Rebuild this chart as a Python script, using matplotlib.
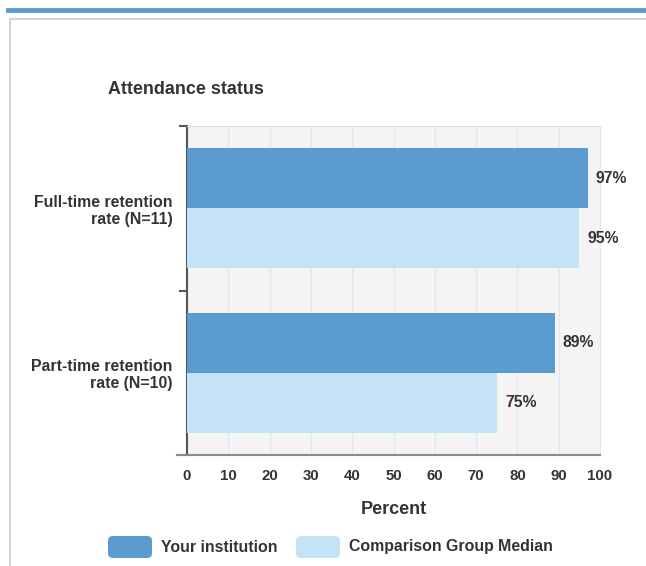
import matplotlib.pyplot as plt
from matplotlib.patches import FancyBboxPatch
from matplotlib.lines import Line2D

plt.rcParams['font.family'] = ['Liberation Sans', 'DejaVu Sans']

categories = ['Full-time retention\nrate (N=11)', 'Part-time retention\nrate (N=10)']
series_names = ['Your institution', 'Comparison Group Median']
institution = [97, 89]
comparison = [95, 75]
xticks = [0, 10, 20, 30, 40, 50, 60, 70, 80, 90, 100]

dark = '#5b9bd0'
light = '#c5e3f6'
txt = '#333333'

W, H = 646, 566
fig = plt.figure(figsize=(W / 100, H / 100), dpi=100)
fig.patch.set_facecolor('white')

# page decoration: blue top rule and grey panel border
fig.add_artist(Line2D([8 / W, 1], [1 - 10 / H, 1 - 10 / H], color='#5b9bd0', lw=3.5))
fig.add_artist(Line2D([10 / W, 1], [1 - 19 / H, 1 - 19 / H], color='#d3d3d3', lw=1.5))
fig.add_artist(Line2D([10 / W, 10 / W], [0, 1 - 19 / H], color='#d3d3d3', lw=1.5))

ax = fig.add_axes([187 / W, 111 / H, 413 / W, 329 / H])
ax.set_facecolor('#f4f4f4')

h = 0.366
ypos = list(range(len(categories)))
b1 = ax.barh([y - h / 2 for y in ypos], institution, height=h, color=dark, zorder=3)
b2 = ax.barh([y + h / 2 for y in ypos], comparison, height=h, color=light, zorder=3)

for bars, vals in ((b1, institution), (b2, comparison)):
    for b, v in zip(bars, vals):
        ax.text(v + 2.0, b.get_y() + b.get_height() / 2, f'{v}%', va='center', ha='left',
                fontsize=11.3, fontweight='bold', color=txt)

ax.set_xlim(0, 100)
ax.set_ylim(1.5, -0.5)
ax.set_xticks(xticks)
ax.set_xticklabels([str(t) for t in xticks], fontsize=10.8, fontweight='bold', color=txt)
ax.tick_params(axis='x', length=0, pad=10)
ax.xaxis.grid(True, color='#e2e6ee', lw=1, zorder=0)

ax.set_yticks([-0.5, 0.5, 1.5], minor=False)
ax.set_yticklabels([])
ax.set_yticks(ypos, minor=True)
ax.set_yticklabels(categories, minor=True, fontsize=11.4, fontweight='bold', color=txt,
                   linespacing=1.15)
ax.tick_params(axis='y', which='major', length=6, width=1.5, color='#555555', direction='out')
ax.tick_params(axis='y', which='minor', length=0, pad=10.5)

ax.spines['left'].set_color('#555555')
ax.spines['left'].set_linewidth(1.5)
ax.spines['bottom'].set_visible(False)
ax.spines['top'].set_color('#e0e0e0')
ax.spines['right'].set_color('#e2e6ee')
ax.add_line(Line2D([-10 / 413, 1], [0, 0], transform=ax.transAxes, color='#8a8a8a',
                   lw=1.5, clip_on=False, zorder=5))

ax.set_xlabel('Percent', fontsize=13, fontweight='bold', color=txt, labelpad=13)

fig.text(108 / W, 1 - 89 / H, 'Attendance status', fontsize=12.9, fontweight='bold',
         color=txt, va='center', ha='left')

# legend
ly = 1 - 547 / H
for x0, col, name in ((108, dark, series_names[0]), (296, light, series_names[1])):
    fig.add_artist(FancyBboxPatch((x0 / W, ly - 11 / H), 44 / W, 22 / H,
                                  boxstyle='round,pad=0,rounding_size=0.008',
                                  facecolor=col, edgecolor='none'))
    fig.text((x0 + 53) / W, ly, name, fontsize=11.4, fontweight='bold', color=txt,
             va='center', ha='left')

fig.savefig('out.png', dpi=100)
